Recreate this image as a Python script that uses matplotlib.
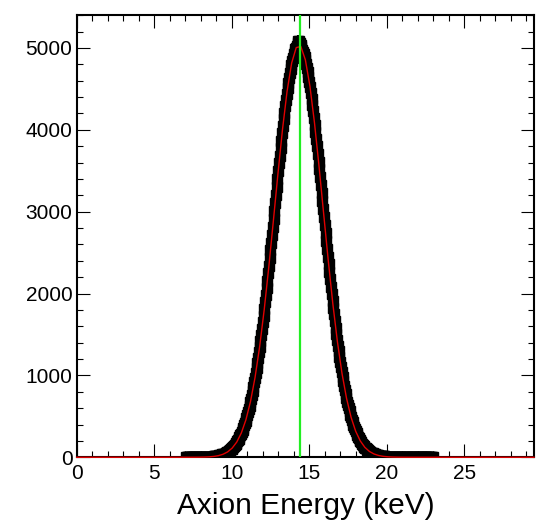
import numpy as np
import matplotlib
matplotlib.use("Agg")
import matplotlib.pyplot as plt
from matplotlib.ticker import MultipleLocator

plt.rcParams['font.family'] = ['Liberation Sans', 'DejaVu Sans']

# histogram, 0.05 keV bins, stored as two interleaved grids of bin centres
energy_a = np.round(np.arange(7.10, 22.95, 0.1), 2)   # 7.10, 7.20, ... 22.90
counts_a = [
    0, 0, 0, 0, 0, 0, 1, 1, 1, 1,
    2, 2, 3, 4, 5, 6, 7, 9, 12, 15,
    18, 22, 28, 34, 42, 51, 61, 74, 89, 107,
    127, 152, 179, 211, 247, 289, 336, 389, 449, 516,
    590, 672, 763, 862, 970, 1087, 1213, 1349, 1494, 1648,
    1810, 1980, 2156, 2339, 2527, 2719, 2913, 3109, 3304, 3497,
    3686, 3869, 4044, 4210, 4366, 4508, 4636, 4748, 4843, 4925,
    4985, 5030, 5085, 5060, 5010, 4955, 4890, 4807, 4705, 4587,
    4453, 4306, 4146, 3976, 3797, 3611, 3420, 3226, 3031, 2836,
    2641, 2451, 2265, 2085, 1911, 1745, 1585, 1435, 1294, 1162,
    1039, 926, 821, 726, 639, 560, 488, 425, 368, 317,
    272, 232, 197, 167, 141, 118, 99, 83, 69, 57,
    47, 38, 31, 26, 21, 17, 13, 11, 9, 7,
    5, 4, 3, 3, 2, 2, 1, 1, 0, 0,
    0, 0, 0, 0, 0, 0, 0, 0, 0, 0,
    0, 0, 0, 0, 0, 0, 0, 0, 0,
]
energy_b = np.round(np.arange(7.05, 23.0, 0.1), 2)    # 7.05, 7.15, ... 22.95
counts_b = [
    0, 0, 0, 0, 0, 0, 1, 1, 1, 1,
    2, 2, 3, 3, 4, 5, 7, 8, 10, 13,
    16, 20, 25, 31, 38, 46, 56, 67, 81, 98,
    117, 139, 164, 194, 228, 267, 311, 362, 418, 481,
    552, 630, 717, 811, 915, 1027, 1149, 1280, 1421, 1570,
    1728, 1894, 2068, 2247, 2433, 2622, 2816, 3011, 3206, 3400,
    3592, 3778, 3958, 4128, 4290, 4439, 4574, 4694, 4797, 4883,
    4950, 5005, 5055, 5090, 5040, 4980, 4925, 4851, 4758, 4648,
    4522, 4381, 4227, 4061, 3887, 3705, 3516, 3323, 3128, 2933,
    2738, 2546, 2357, 2174, 1997, 1826, 1663, 1509, 1363, 1226,
    1099, 981, 872, 772, 681, 598, 522, 455, 394, 340,
    292, 251, 214, 182, 154, 130, 109, 91, 76, 63,
    52, 42, 35, 28, 23, 19, 15, 12, 10, 8,
    6, 5, 4, 3, 2, 2, 1, 1, 1, 0,
    0, 0, 0, 0, 0, 0, 0, 0, 0, 0,
    0, 0, 0, 0, 0, 0, 0, 0, 0, 0,
]
line_energy = 14.4  # keV

energy = np.concatenate([energy_a, energy_b])
counts = np.concatenate([counts_a, counts_b]).astype(float)
order = np.argsort(energy)
energy, counts = energy[order], counts[order]

# gaussian fit to the histogram (log-parabola, weighted)
sel = counts > 50
c2, c1, c0 = np.polyfit(energy[sel], np.log(counts[sel]), 2, w=np.sqrt(counts[sel]))
fit_x = np.linspace(0, 29.5, 101)
fit_y = np.exp(c0 + c1 * fit_x + c2 * fit_x ** 2)

fig = plt.figure(figsize=(5.4, 5.25), dpi=100)
ax = fig.add_axes([0.142, 0.129, 0.847, 0.842])

ax.errorbar(energy, counts, yerr=np.sqrt(counts), fmt='s', color='black',
            ms=6.5, elinewidth=1.6, capsize=0, zorder=3)
ax.plot(fit_x, fit_y, color='#e00000', lw=1.0, zorder=4, clip_on=False)
ax.axvline(line_energy, color='#22ee22', lw=1.6, zorder=5)

ax.set_xlim(0, 29.5)
ax.set_ylim(0, 5400)
ax.xaxis.set_major_locator(MultipleLocator(5))
ax.xaxis.set_minor_locator(MultipleLocator(1))
ax.yaxis.set_major_locator(MultipleLocator(1000))
ax.yaxis.set_minor_locator(MultipleLocator(200))
ax.tick_params(which='both', direction='in', top=True, right=True, width=0.8,
               labelsize=15)
ax.tick_params(which='major', length=9.5)
ax.tick_params(which='minor', length=4.5)
ax.tick_params(axis='x', pad=5)
ax.tick_params(axis='y', pad=3)
for s in ax.spines.values():
    s.set_linewidth(1.5)

ax.set_xlabel('Axion Energy (keV)', fontsize=21.5, labelpad=6)

fig.savefig('out.png', dpi=100)
